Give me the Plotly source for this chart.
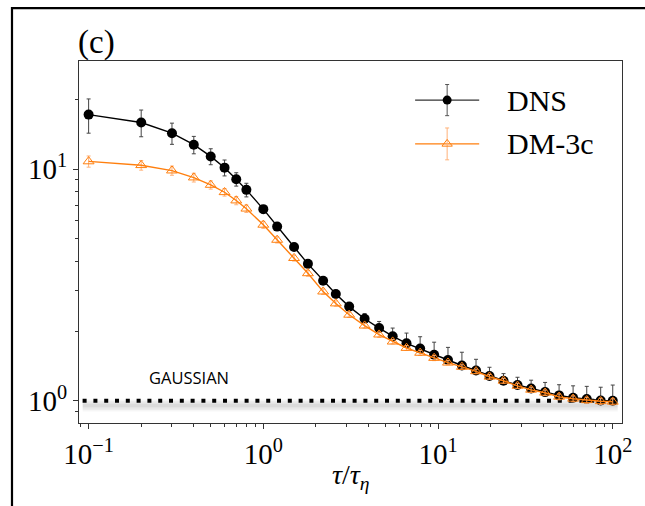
import plotly.graph_objects as go

# ---- data ----
TAU = [0.1, 0.2, 0.3, 0.4, 0.5, 0.6, 0.7, 0.8, 1.0, 1.2, 1.5, 1.8, 2.2, 2.6, 3.1, 3.8,
       4.6, 5.5, 6.6, 7.9, 9.5, 11.4, 13.7, 16.5, 19.7, 23.7, 28.5, 34.1, 41.0, 49.3,
       59.3, 71.0, 85.3, 100.0]
DNS = [17.2, 15.9, 14.3, 12.75, 11.35, 10.15, 9.05, 8.14, 6.72, 5.65, 4.61, 3.90, 3.30,
       2.89, 2.55, 2.26, 2.06, 1.90, 1.77, 1.68, 1.58, 1.50, 1.42, 1.35, 1.28, 1.22,
       1.17, 1.13, 1.09, 1.055, 1.03, 1.017, 1.003, 1.0]
DNS_ERR_UP = [2.9, 2.1, 1.5, 1.1, 0.9, 0.8, 0.6, 0.55, 0.25, 0.2, 0.15, 0.12, 0.1, 0.09,
              0.09, 0.12, 0.14, 0.16, 0.19, 0.21, 0.21, 0.20, 0.20, 0.16, 0.115, 0.09,
              0.093, 0.097, 0.11, 0.118, 0.13, 0.137, 0.141, 0.169]
DNS_ERR_DN = [2.9, 2.1, 1.5, 1.1, 0.9, 0.8, 0.6, 0.55, 0.25, 0.2, 0.15, 0.12, 0.1, 0.09,
              0.05, 0.04, 0.03, 0.03, 0.03, 0.03, 0.03, 0.03, 0.03, 0.03, 0.02, 0.02,
              0.02, 0.02, 0.02, 0.02, 0.02, 0.02, 0.02, 0.02]
DM3C = [10.8, 10.4, 9.86, 9.2, 8.55, 7.95, 7.32, 6.75, 5.75, 4.95, 4.13, 3.55, 2.96, 2.63,
        2.35, 2.11, 1.93, 1.80, 1.69, 1.61, 1.53, 1.46, 1.40, 1.34, 1.27, 1.22, 1.16,
        1.115, 1.083, 1.04, 1.02, 1.005, 0.995, 0.99]
DM3C_ERR = [0.6, 0.5, 0.45, 0.4, 0.35, 0.3, 0.3, 0.25, 0.2, 0.15, 0.12, 0.1, 0.08, 0.07,
            0.06, 0.05, 0.05, 0.04, 0.04, 0.04, 0.04, 0.03, 0.03, 0.03, 0.03, 0.03, 0.03,
            0.03, 0.03, 0.03, 0.03, 0.03, 0.03, 0.03]
GAUSS_X = [0.0924, 106.8]
GAUSS_Y = [1.0, 1.0]
SHADOW_Y = [0.953, 0.953]

X_TICKS = [0.1, 1, 10, 100]
X_TICKTEXT = ["10<sup>\u22121</sup>", "10<sup>0</sup>", "10<sup>1</sup>", "10<sup>2</sup>"]
X_MINOR = [0.09, 0.2, 0.3, 0.4, 0.5, 0.6, 0.7, 0.8, 0.9, 2, 3, 4, 5, 6, 7, 8, 9,
           20, 30, 40, 50, 60, 70, 80, 90]
Y_TICKS = [1, 10]
Y_TICKTEXT = ["10<sup>0</sup>", "10<sup>1</sup>"]
Y_MINOR = [0.8, 0.9, 2, 3, 4, 5, 6, 7, 8, 9, 20]

ORANGE = "#ff7f0e"
SERIF = "Liberation Serif"

fig = go.Figure()

# soft shadow under gaussian line (stacked translucent strokes)
for w in (12, 9, 6, 3):
    fig.add_trace(go.Scatter(x=GAUSS_X, y=SHADOW_Y, mode="lines",
                             line=dict(color="rgba(0,0,0,0.035)", width=w),
                             showlegend=False, hoverinfo="skip"))
fig.add_trace(go.Scatter(x=GAUSS_X, y=GAUSS_Y, mode="lines",
                         line=dict(color="black", width=4, dash="4px,6.8px"),
                         showlegend=False, hoverinfo="skip"))

fig.add_trace(go.Scatter(
    x=TAU, y=DNS, mode="lines+markers", name="DNS",
    line=dict(color="black", width=1.4),
    marker=dict(symbol="circle", size=10, color="black"),
    error_y=dict(type="data", symmetric=False, array=DNS_ERR_UP, arrayminus=DNS_ERR_DN,
                 color="#444444", thickness=1, width=2),
    showlegend=False))

fig.add_trace(go.Scatter(
    x=TAU, y=DM3C, mode="lines+markers", name="DM-3c",
    line=dict(color=ORANGE, width=1.4),
    marker=dict(symbol="triangle-up-open", size=9.5, color=ORANGE, line=dict(width=1)),
    error_y=dict(type="data", array=DM3C_ERR, color="#ffb27a", thickness=1, width=2),
    showlegend=False))

# ---- manual legend on an overlay 0..1 axis ----
LEG_X = [0.619, 0.737]
LEG_MX = [0.678]
fig.add_trace(go.Scatter(x=LEG_X, y=[0.892, 0.892], mode="lines",
                         line=dict(color="#333333", width=1.4),
                         xaxis="x2", yaxis="y2", showlegend=False, hoverinfo="skip"))
fig.add_trace(go.Scatter(x=LEG_MX, y=[0.892], mode="markers",
                         marker=dict(symbol="circle", size=9, color="black"),
                         error_y=dict(type="data", array=[0.043], color="#555555",
                                      thickness=1, width=2),
                         xaxis="x2", yaxis="y2", showlegend=False, hoverinfo="skip"))
fig.add_trace(go.Scatter(x=LEG_X, y=[0.771, 0.771], mode="lines",
                         line=dict(color=ORANGE, width=1.4),
                         xaxis="x2", yaxis="y2", showlegend=False, hoverinfo="skip"))
fig.add_trace(go.Scatter(x=LEG_MX, y=[0.771], mode="markers",
                         marker=dict(symbol="triangle-up-open", size=9, color=ORANGE,
                                     line=dict(width=1)),
                         error_y=dict(type="data", array=[0.044], color="#ffb27a",
                                      thickness=1, width=2),
                         xaxis="x2", yaxis="y2", showlegend=False, hoverinfo="skip"))

axis_common = dict(showline=True, linecolor="#333333", linewidth=1, mirror=True,
                   ticks="outside", ticklen=5, tickcolor="#333333", showgrid=False,
                   zeroline=False)

fig.update_layout(
    width=645, height=506,
    margin=dict(l=79, r=23, t=61, b=83),
    paper_bgcolor="white", plot_bgcolor="white",
    font=dict(family=SERIF, color="black"),
    xaxis=dict(type="log", range=[-1.055, 2.053], tickmode="array",
               tickvals=X_TICKS, ticktext=X_TICKTEXT,
               tickfont=dict(family=SERIF, size=29),
               minor=dict(tickmode="array", tickvals=X_MINOR, ticks="outside",
                          ticklen=3, tickcolor="#333333", showgrid=False),
               **axis_common),
    yaxis=dict(type="log", range=[-0.096, 1.467], tickmode="array",
               tickvals=Y_TICKS, ticktext=Y_TICKTEXT,
               tickfont=dict(family=SERIF, size=29),
               minor=dict(tickmode="array", tickvals=Y_MINOR, ticks="outside",
                          ticklen=3, tickcolor="#333333", showgrid=False),
               **axis_common),
    xaxis2=dict(overlaying="x", range=[0, 1], visible=False, fixedrange=True),
    yaxis2=dict(overlaying="y", range=[0, 1], visible=False, fixedrange=True),
    showlegend=False,
    annotations=[
        dict(text="<i>\u03c4</i>/<i>\u03c4</i><sub><i>\u03b7</i></sub>",
             xref="paper", yref="paper", x=0.5, y=-0.148,
             xanchor="center", yanchor="middle", showarrow=False,
             font=dict(family=SERIF, size=28)),
        dict(text="DNS", xref="paper", yref="paper", x=0.785, y=0.892,
             xanchor="left", yanchor="middle", showarrow=False,
             font=dict(family=SERIF, size=30)),
        dict(text="DM-3c", xref="paper", yref="paper", x=0.785, y=0.771,
             xanchor="left", yanchor="middle", showarrow=False,
             font=dict(family=SERIF, size=30)),
        dict(text="GAUSSIAN", xref="x", yref="y", x=-0.664, y=0.1006,
             xanchor="left", yanchor="middle", showarrow=False,
             font=dict(family="Open Sans", size=16.5)),
        dict(text="(c)", xref="paper", yref="paper", x=-0.006, y=1.05,
             xanchor="left", yanchor="middle", showarrow=False,
             font=dict(family=SERIF, size=33)),
    ],
    shapes=[
        dict(type="rect", xref="paper", yref="paper", x0=-0.1234, x1=1.3,
             y0=-0.4, y1=1.146, line=dict(color="black", width=2.2),
             fillcolor="rgba(0,0,0,0)", layer="above"),
    ],
)

fig.write_html("out.html")
